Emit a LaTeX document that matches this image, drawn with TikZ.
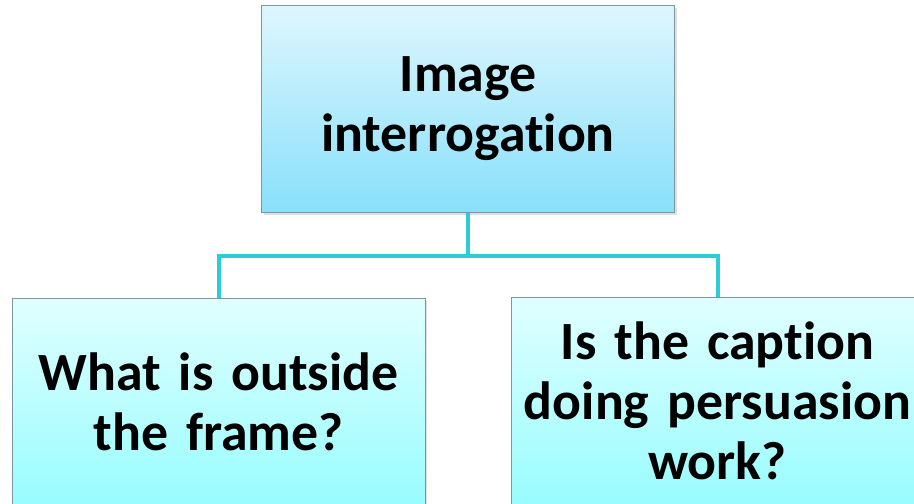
\documentclass[tikz,border=0pt]{standalone}
\usepackage{fontspec}
\setmainfont[RawFeature={-liga;-clig;-calt;-rlig}]{Carlito}
\usetikzlibrary{positioning,shadows}

\definecolor{boxline}{RGB}{125,150,158}
\definecolor{linkcol}{RGB}{43,205,214}
\definecolor{headtop}{RGB}{222,246,253}
\definecolor{headbot}{RGB}{136,224,251}
\definecolor{leaftop}{RGB}{224,255,255}
\definecolor{leafbot}{RGB}{152,252,254}

\begin{document}
\begin{tikzpicture}[x=1bp, y=1bp,
    card/.style={draw=boxline, line width=0.8bp, minimum width=413bp, minimum height=207bp,
      inner sep=0pt, text width=405bp, align=center,
      font=\fontsize{54}{60}\selectfont\bfseries,
      drop shadow={opacity=0.25, shadow xshift=2bp, shadow yshift=-3bp}},
    headcard/.style={card, top color=headtop, bottom color=headbot},
    leafcard/.style={card, top color=leaftop, bottom color=leafbot},
    link/.style={draw=linkcol, line width=4bp}]
    \useasboundingbox (0,0) rectangle (914,-504);
    \clip (0,0) rectangle (914,-504);

    % root
    \node[headcard] (root) at (468,-109) {Image\\interrogat\kern0pt ion};

    % children
    \node[leafcard] (outside) at (218.5,-402) {What is outside\\the frame?};
    \node[leafcard] (caption) at (717.5,-401) {Is the capt\kern0pt ion\\doing persuasion\\work?};

    % tree links
    \draw[link] (root.south) -- ++(0,-43) coordinate (fork) -| (outside.north);
    \draw[link] (fork) -| (caption.north);
\end{tikzpicture}
\end{document}
